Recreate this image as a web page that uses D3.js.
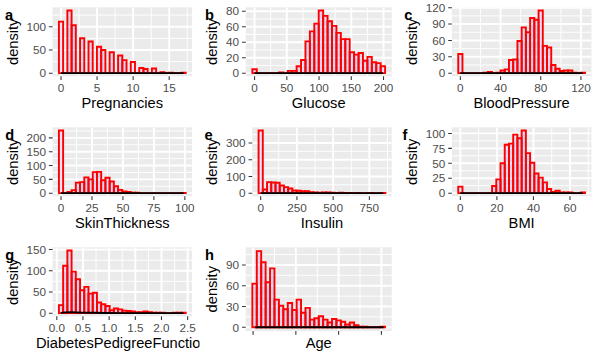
<!DOCTYPE html>
<html><head><meta charset="utf-8">
<script src="https://cdn.jsdelivr.net/npm/d3@7"></script>
<style>
body{margin:0;background:#fff}
svg{display:block}
text{font-family:"Liberation Sans",Arial,Helvetica,sans-serif}
</style>
</head><body>
<svg id="chart" width="599" height="360"></svg>
<script>
// ---------------- data ----------------
const variables = ["Pregnancies","Glucose","BloodPressure","SkinThickness","Insulin","BMI","DiabetesPedigreeFunction","Age"];
const panelLetters = ["a","b","c","d","e","f","g","h"];
const dataMin = [0, 0, 0, 0, 0, 0, 0.078, 21];
const dataMax = [17, 199, 122, 99, 846, 67.1, 2.42, 81];

// 30-bin histogram counts per variable
const countsPregnancies   = [111,0,135,103,0,75,0,68,0,57,50,0,45,0,38,28,0,24,0,11,9,0,10,0,2,0,1,0,0,1];
const countsGlucose       = [5,0,0,0,0,0,1,0,3,3,9,17,41,54,64,81,74,67,61,52,44,44,27,24,26,16,21,14,13,9];
const countsBloodPressure = [35,0,0,0,0,0,1,2,0,1,5,7,24,25,59,84,75,101,98,115,50,47,15,8,4,5,5,1,0,1];
const countsSkinThickness = [227,0,4,11,38,40,57,50,76,77,47,56,42,25,12,6,4,2,2,0,0,0,0,0,0,0,0,0,0,1];
const countsInsulin       = [375,22,66,64,62,46,36,28,16,14,12,12,6,4,3,4,4,3,1,3,1,1,0,1,0,0,1,0,0,1];
const countsBMI           = [11,0,0,0,0,0,0,0,12,23,50,81,83,98,92,105,67,51,33,26,18,7,2,4,1,1,1,0,0,1];
const countsDPF           = [19,112,148,98,80,54,62,46,48,25,21,17,7,11,9,6,5,4,2,2,4,2,1,1,1,0,0,1,1,1];
const countsAge           = [63,110,94,65,85,40,31,26,35,25,40,21,28,11,13,16,11,7,12,10,8,4,7,3,1,1,0,0,0,1];

// density curves (black line), [x, density]
const densPregnancies   = [[0,0.13],[1,0.16],[2,0.14],[4,0.09],[6,0.065],[8,0.045],[10,0.03],[13,0.01],[17,0.001]];
const densGlucose       = [[0,0.001],[50,0.001],[80,0.006],[100,0.012],[120,0.011],[150,0.006],[199,0.002]];
const densBloodPressure = [[0,0.004],[20,0.001],[50,0.01],[70,0.03],[80,0.028],[100,0.005],[122,0.0005]];
const densSkinThickness = [[0,0.03],[10,0.008],[30,0.025],[50,0.004],[99,0.0001]];
const densInsulin       = [[0,0.008],[100,0.002],[300,0.0005],[846,0]];
const densBMI           = [[0,0.002],[20,0.01],[32,0.055],[45,0.015],[67.1,0.0005]];
const densDPF           = [[0.078,0.8],[0.15,1.8],[0.25,2.3],[0.35,1.9],[0.5,1.3],[0.7,0.9],[0.9,0.45],[1.2,0.2],[1.5,0.08],[2.0,0.02],[2.42,0.01]];
const densAge           = [[21,0.07],[25,0.065],[30,0.04],[40,0.025],[50,0.013],[60,0.008],[70,0.002],[81,0.0003]];

// axis ticks
const yTicks = [[0,50,100],[0,20,40,60,80],[0,30,60,90,120],[0,50,100,150,200],[0,100,200,300],[0,25,50,75,100],[0,50,100,150],[0,30,60,90]];
const xTicks = [[0,5,10,15],[0,50,100,150,200],[0,40,80,120],[0,25,50,75,100],[0,250,500,750],[0,20,40,60],[0,0.5,1,1.5,2,2.5],[20,40,60,80]];
const xTickLabels = [["0","5","10","15"],["0","50","100","150","200"],["0","40","80","120"],["0","25","50","75","100"],["0","250","500","750"],["0","20","40","60"],["0.0","0.5","1.0","1.5","2.0","2.5"],[]];
const yTitle = "density";

const allCounts = [countsPregnancies,countsGlucose,countsBloodPressure,countsSkinThickness,countsInsulin,countsBMI,countsDPF,countsAge];
const allDens = [densPregnancies,densGlucose,densBloodPressure,densSkinThickness,densInsulin,densBMI,densDPF,densAge];

// ---------------- drawing ----------------
const W = 599, H = 360, cellW = W/3, cellH = 120;
const svg = d3.select("#chart");
const defs = svg.append("defs");
const tickFont = 11.73, titleFont = 14.67;

function textWidth(str, size, weight){
  const t = svg.append("text").attr("font-size", size).attr("font-weight", weight||"normal").text(str);
  const w = t.node().getComputedTextLength(); t.remove(); return w;
}

variables.forEach((name, i) => {
  const col = i % 3, row = Math.floor(i / 3);
  const cx = col * cellW, cy = row * cellH;
  const counts = allCounts[i];
  const nb = counts.length;
  const bw = (dataMax[i] - dataMin[i]) / (nb - 1);
  const origin = bw/2 + Math.floor((dataMin[i] - bw/2) / bw) * bw;
  const bins = counts.map((c, k) => ({x0: origin + k*bw, x1: origin + (k+1)*bw, n: c}));
  const xr0 = origin, xr1 = origin + nb*bw, xs = (xr1 - xr0) * 0.05;
  const maxC = d3.max(counts);
  const hasXLab = xTickLabels[i].length > 0;

  const labW = d3.max(yTicks[i], t => textWidth(String(t), tickFont));
  const left = cx + 33 + labW, right = cx + cellW - 7.6;
  const top = cy + 7.3, bottom = cy + (hasXLab ? 76.3 : 91.1);

  const x = d3.scaleLinear().domain([xr0 - xs, xr1 + xs]).range([left, right]);
  const y = d3.scaleLinear().domain([-0.05*maxC, 1.05*maxC]).range([bottom, top]);

  defs.append("clipPath").attr("id", "cell"+i).append("rect")
    .attr("x", cx).attr("y", cy).attr("width", cellW).attr("height", cellH);
  defs.append("clipPath").attr("id", "pan"+i).append("rect")
    .attr("x", left).attr("y", top).attr("width", right-left).attr("height", bottom-top);

  const g = svg.append("g").attr("clip-path", `url(#cell${i})`);
  // panel background
  g.append("rect").attr("x", left).attr("y", top).attr("width", right-left).attr("height", bottom-top).attr("fill", "#EBEBEB");
  const pg = g.append("g").attr("clip-path", `url(#pan${i})`);

  // minor gridlines
  const minor = (ticks, dom) => {
    const st = ticks[1] - ticks[0];
    const ext = [ticks[0]-st, ...ticks, ticks[ticks.length-1]+st];
    const out = [];
    for (let k = 0; k < ext.length-1; k++){ const m = (ext[k]+ext[k+1])/2; if (m >= dom[0] && m <= dom[1]) out.push(m); }
    return out;
  };
  minor(yTicks[i], y.domain()).forEach(v => pg.append("line").attr("x1", left).attr("x2", right).attr("y1", y(v)).attr("y2", y(v)).attr("stroke", "#fff").attr("stroke-width", 0.95));
  minor(xTicks[i], x.domain()).forEach(v => pg.append("line").attr("y1", top).attr("y2", bottom).attr("x1", x(v)).attr("x2", x(v)).attr("stroke", "#fff").attr("stroke-width", 0.95));
  yTicks[i].forEach(v => pg.append("line").attr("x1", left).attr("x2", right).attr("y1", y(v)).attr("y2", y(v)).attr("stroke", "#fff").attr("stroke-width", 1.9));
  xTicks[i].forEach(v => pg.append("line").attr("y1", top).attr("y2", bottom).attr("x1", x(v)).attr("x2", x(v)).attr("stroke", "#fff").attr("stroke-width", 1.9));

  // bars
  pg.selectAll("path.bar").data(bins).enter().append("path").attr("class", "bar")
    .attr("d", d => `M${x(d.x0)},${y(0)}V${y(d.n)}H${x(d.x1)}V${y(0)}Z`)
    .attr("fill", "blue").attr("fill-opacity", 0.1)
    .attr("stroke", "red").attr("stroke-width", 1.9).attr("stroke-linejoin", "miter");

  // density line
  const line = d3.line().x(d => x(d[0])).y(d => y(d[1])).curve(d3.curveMonotoneX);
  pg.append("path").attr("d", line(allDens[i])).attr("fill", "none").attr("stroke", "#000").attr("stroke-width", 1.9);

  // y axis ticks & labels
  yTicks[i].forEach(v => {
    g.append("line").attr("x1", left-3.67).attr("x2", left).attr("y1", y(v)).attr("y2", y(v)).attr("stroke", "#333").attr("stroke-width", 1.07);
    g.append("text").attr("x", left-6.6).attr("y", y(v)).attr("dy", "0.36em").attr("text-anchor", "end")
      .attr("font-size", tickFont).attr("fill", "#4D4D4D").text(String(v));
  });
  // x axis ticks & labels
  xTicks[i].forEach((v, k) => {
    g.append("line").attr("x1", x(v)).attr("x2", x(v)).attr("y1", bottom).attr("y2", bottom+3.67).attr("stroke", "#333").attr("stroke-width", 1.07);
    if (hasXLab) g.append("text").attr("x", x(v)).attr("y", bottom+15.2).attr("text-anchor", "middle")
      .attr("font-size", tickFont).attr("fill", "#4D4D4D").text(xTickLabels[i][k]);
  });
  // axis titles
  g.append("text").attr("x", (left+right)/2).attr("y", bottom + (hasXLab ? 32 : 17.3)).attr("text-anchor", "middle")
    .attr("font-size", titleFont).attr("fill", "#000").text(name);
  g.append("text").attr("transform", `translate(${cx+17.5},${(top+bottom)/2}) rotate(-90)`).attr("text-anchor", "middle")
    .attr("font-size", titleFont).attr("fill", "#000").text(yTitle);
  // panel letter
  const lw = textWidth(panelLetters[i], titleFont, "bold");
  g.append("text").attr("x", cx + 0.5*lw + 0.8).attr("y", cy + 20).attr("font-size", titleFont).attr("font-weight", "bold")
    .attr("fill", "#000").text(panelLetters[i]);
});
</script>
</body></html>
